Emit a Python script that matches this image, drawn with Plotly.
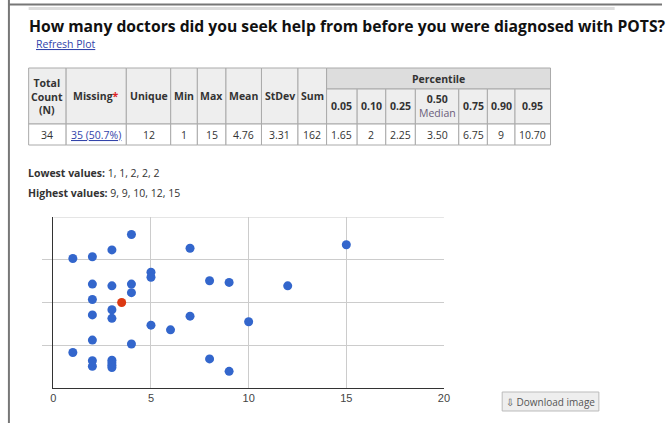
"""Descriptive stats page: doctors seen before POTS diagnosis."""

import plotly.graph_objects as go

W, H = 668, 423

title_text = "How many doctors did you seek help from before you were diagnosed with POTS?"

# answers (x) and the vertical jitter used to spread the dots (y)
doctors = [4, 7, 15, 3, 1, 2, 5, 5, 8, 9, 12, 2, 3, 4, 4, 2,
           3, 3, 2, 7, 10, 5, 6, 2, 4, 1, 8, 9, 2, 2, 3, 3, 3, 3]
jitter = [3.59, 3.27, 3.35, 3.23, 3.03, 3.07, 2.71, 2.59, 2.51, 2.47, 2.39, 2.43, 2.39, 2.43, 2.23, 2.07,
          1.83, 1.63, 1.71, 1.68, 1.55, 1.47, 1.36, 1.12, 1.03, 0.83, 0.68, 0.39, 0.64, 0.51, 0.65, 0.59, 0.53, 0.48]
median_x = [3.5]
median_y = [2.0]

stat_headers = ["Total<br>Count<br>(N)", "Missing<span style='color:#d22'>*</span>", "Unique",
                "Min", "Max", "Mean", "StDev", "Sum"]
pct_headers = ["0.05", "0.10", "0.25", "0.50<br><span style='font-weight:normal;color:#6a5d7a'>Median</span>",
               "0.75", "0.90", "0.95"]
row_values = ["34", "<u>35 (50.7%)</u>", "12", "1", "15", "4.76", "3.31", "162",
              "1.65", "2", "2.25", "3.50", "6.75", "9", "10.70"]

# column edges of the html-like table (pixels)
col_edges = [26, 64, 125, 170, 197, 226, 262, 299, 328, 359, 388, 418, 462, 491, 519, 555]


def X(px):
    return px / W


def Y(py):
    return 1 - py / H


FONT = "Open Sans, sans-serif"
shapes = []
annos = []


def rect(x0, y0, x1, y1, fill, line="#aaa", lw=1):
    shapes.append(dict(type="rect", xref="paper", yref="paper", x0=X(x0), x1=X(x1), y0=Y(y1), y1=Y(y0),
                       fillcolor=fill, line=dict(color=line, width=lw), layer="below"))


def line(x0, y0, x1, y1, color, lw):
    shapes.append(dict(type="line", xref="paper", yref="paper", x0=X(x0), x1=X(x1), y0=Y(y0), y1=Y(y1),
                       line=dict(color=color, width=lw)))


def text(x, y, s, size=11, color="#333", xa="center", bold=False):
    if bold:
        s = "<b>" + s.replace("<br>", "</b><br><b>") + "</b>"
    annos.append(dict(xref="paper", yref="paper", x=X(x), y=Y(y), text=s, showarrow=False,
                      xanchor=xa, yanchor="middle", align="center",
                      font=dict(family=FONT, size=size, color=color)))


# page frame
line(6, 0, 6, H, "#777", 2)
line(6, 4.5, W, 4.5, "#777", 2)
line(26, 8.5, 620, 8.5, "#ddd", 3)

text(24, 26, "<b>" + title_text + "</b>", size=15.7, color="#111", xa="left")
text(31, 44, "<u>Refresh Plot</u>", size=10.5, color="#3344aa", xa="left")

# table
top, mid, hbot, bot = 68, 89, 124, 145
for i, h in enumerate(stat_headers):
    rect(col_edges[i], top, col_edges[i + 1], hbot, "#eeeeee")
    text((col_edges[i] + col_edges[i + 1]) / 2, (top + hbot) / 2, h, size=10.5, bold=True)
rect(col_edges[8], top, col_edges[-1], mid, "#dddddd")
text((col_edges[8] + col_edges[-1]) / 2, (top + mid) / 2, "Percentile", size=10.5, bold=True)
for j, h in enumerate(pct_headers):
    i = 8 + j
    rect(col_edges[i], mid, col_edges[i + 1], hbot, "#eeeeee")
    s = "<b>" + h.split("<br>")[0] + "</b>" + ("<br>" + h.split("<br>")[1] if "<br>" in h else "")
    text((col_edges[i] + col_edges[i + 1]) / 2, (mid + hbot) / 2, s, size=10.5)
for i, v in enumerate(row_values):
    rect(col_edges[i], hbot, col_edges[i + 1], bot, "white")
    text((col_edges[i] + col_edges[i + 1]) / 2, (hbot + bot) / 2, v, size=10.5,
         color="#3344aa" if i == 1 else "#333")

low5 = ", ".join(str(v) for v in sorted(doctors)[:5])
high5 = ", ".join(str(v) for v in sorted(doctors)[-5:])
text(23, 173, "<b>Lowest values:</b> " + low5, size=10.5, xa="left")
text(23, 193, "<b>Highest values:</b> " + high5, size=10.5, xa="left")

# download button
rect(506, 392, 604, 411, "#eeeeee", line="#bbb")
text(555, 402, "⇩ Download image", size=10, color="#555")

fig = go.Figure()
fig.add_trace(go.Scatter(x=doctors, y=jitter, mode="markers", hoverinfo="x",
                         marker=dict(color="#3366cc", size=9, line=dict(width=0))))
fig.add_trace(go.Scatter(x=median_x, y=median_y, mode="markers", hoverinfo="x",
                         marker=dict(color="#dc3912", size=9, line=dict(width=0))))

# top border of the plot area
shapes.append(dict(type="line", xref="x", yref="y", x0=0, x1=20, y0=4, y1=4,
                   line=dict(color="#ccc", width=1), layer="below"))

fig.update_layout(
    width=W, height=H,
    margin=dict(l=0, r=0, t=0, b=0),
    paper_bgcolor="white", plot_bgcolor="white",
    showlegend=False,
    shapes=shapes, annotations=annos,
    xaxis=dict(domain=[X(51), X(447)], range=[0, 20], tickvals=[0, 5, 10, 15, 20],
               showgrid=True, gridcolor="#ccc", zeroline=False,
               showline=True, linecolor="#333", linewidth=1,
               tickfont=dict(family="Arial, Liberation Sans", size=11, color="#444")),
    yaxis=dict(domain=[Y(388), Y(217)], range=[0, 4], tickvals=[1, 2, 3],
               showticklabels=False, showgrid=True, gridcolor="#ccc", zeroline=False,
               ticks="outside", ticklen=10, tickcolor="#ccc",
               showline=True, linecolor="#333", linewidth=1),
)

fig.write_html("out.html", config={"displayModeBar": False},
               post_script="document.body.style.margin='0px';")
